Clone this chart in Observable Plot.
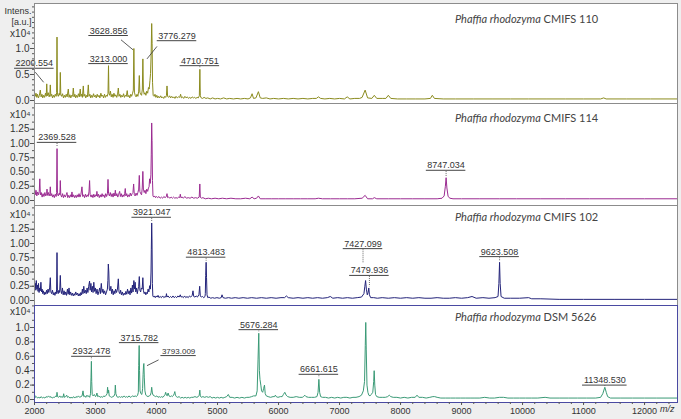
<!DOCTYPE html>
<html><head><meta charset="utf-8">
<script src="https://cdn.jsdelivr.net/npm/d3@7"></script>
<script src="https://cdn.jsdelivr.net/npm/@observablehq/plot@0.6"></script>
<style>
html,body{margin:0;padding:0;background:#fff;}
#chart{position:relative;width:681px;height:419px;background:#efefef;overflow:hidden;font-family:"Liberation Sans",Arial,sans-serif;}
#chart svg{position:absolute;left:0;overflow:visible;}
.title{position:absolute;left:455px;font-family:Lato,"Liberation Sans",sans-serif;font-size:11px;line-height:12px;color:#444;white-space:nowrap;}
</style></head><body><div id="chart"></div>
<script>
// ---------- data ----------
const species = "Phaffia rhodozyma";
const strains = ["CMIFS 110", "CMIFS 114", "CMIFS 102", "DSM 5626"];
const xTicks = [2000,3000,4000,5000,6000,7000,8000,9000,10000,11000,12000];
const yTicks110 = [0, 0.5, 1.0];
const yTicks114 = [0, 0.25, 0.5, 0.75, 1.0, 1.25];
const yTicks102 = [0, 0.25, 0.5, 0.75, 1.0, 1.25];
const yTicks5626 = [0, 0.2, 0.4, 0.6, 0.8, 1.0];

// spectra: [m/z, intensity (x10^4 a.u.)]
const spec110 = [[2000,0.16],[2012,0.08],[2025,0.14],[2038,0.06],[2050,0.12],[2065,0.05],[2080,0.1],[2095,0.2],[2108,0.07],[2122,0.12],[2135,0.05],[2150,0.1],[2165,0.06],[2180,0.14],[2192,0.08],[2200.554,0.32],[2210,0.09],[2225,0.15],[2240,0.07],[2252,0.12],[2259,0.3],[2268,0.08],[2282,0.12],[2295,0.05],[2310,0.1],[2325,0.06],[2340,0.12],[2355,0.08],[2362,0.15],[2369,1.22],[2376,0.12],[2390,0.08],[2405,0.14],[2416,0.1],[2423,0.54],[2431,0.12],[2445,0.08],[2460,0.13],[2475,0.05],[2490,0.1],[2505,0.06],[2520,0.12],[2535,0.07],[2554,0.22],[2566,0.06],[2580,0.11],[2595,0.05],[2610,0.1],[2625,0.08],[2636,0.24],[2648,0.07],[2662,0.12],[2675,0.05],[2690,0.1],[2705,0.06],[2720,0.13],[2735,0.07],[2750,0.22],[2760,0.08],[2772,0.12],[2785,0.06],[2800,0.28],[2810,0.08],[2825,0.12],[2840,0.05],[2855,0.1],[2868,0.07],[2882,0.3],[2893,0.08],[2908,0.12],[2922,0.05],[2938,0.1],[2952,0.06],[2968,0.13],[2982,0.07],[2998,0.1],[3012,0.05],[3028,0.12],[3042,0.07],[3058,0.1],[3072,0.05],[3088,0.14],[3102,0.08],[3118,0.1],[3132,0.05],[3148,0.12],[3162,0.06],[3178,0.1],[3192,0.08],[3205,0.14],[3213,0.67],[3220,0.14],[3232,0.1],[3245,0.18],[3258,0.07],[3272,0.12],[3288,0.06],[3302,0.14],[3318,0.08],[3332,0.11],[3348,0.06],[3362,0.12],[3374,0.24],[3385,0.08],[3400,0.12],[3415,0.06],[3430,0.1],[3445,0.07],[3460,0.13],[3475,0.06],[3490,0.1],[3505,0.08],[3520,0.19],[3532,0.07],[3548,0.1],[3562,0.05],[3578,0.12],[3592,0.08],[3608,0.14],[3620,0.2],[3628.856,1.0],[3638,0.16],[3650,0.1],[3665,0.07],[3680,0.12],[3695,0.08],[3708,0.18],[3718,0.48],[3727,0.16],[3740,0.12],[3755,0.1],[3768,0.22],[3776.279,0.8],[3785,0.2],[3798,0.12],[3812,0.15],[3826,0.1],[3840,0.18],[3855,0.14],[3868,0.25],[3880,0.22],[3892,0.38],[3902,0.52],[3912,0.9],[3921,1.48],[3928,1.1],[3935,0.35],[3945,0.1],[3960,0.08],[3975,0.12],[3990,0.06],[4005,0.1],[4020,0.05],[4035,0.08],[4050,0.05],[4068,0.09],[4085,0.05],[4100,0.07],[4118,0.04],[4135,0.08],[4150,0.06],[4163,0.1],[4172,0.28],[4182,0.08],[4198,0.06],[4215,0.09],[4232,0.05],[4250,0.08],[4268,0.05],[4285,0.07],[4302,0.04],[4320,0.08],[4340,0.05],[4360,0.07],[4380,0.06],[4395,0.12],[4408,0.05],[4425,0.07],[4445,0.04],[4465,0.08],[4485,0.05],[4505,0.07],[4525,0.04],[4545,0.06],[4565,0.04],[4585,0.07],[4605,0.05],[4625,0.06],[4645,0.04],[4665,0.06],[4685,0.05],[4702,0.09],[4710.751,0.6],[4718,0.09],[4732,0.05],[4755,0.04],[4780,0.06],[4810,0.04],[4840,0.05],[4880,0.03],[4920,0.05],[4960,0.03],[5000,0.04],[5050,0.03],[5100,0.05],[5150,0.03],[5200,0.04],[5260,0.03],[5320,0.04],[5380,0.03],[5440,0.04],[5500,0.03],[5540,0.05],[5567,0.13],[5590,0.04],[5630,0.05],[5670,0.17],[5700,0.05],[5740,0.04],[5800,0.05],[5860,0.03],[5920,0.04],[6000,0.03],[6080,0.04],[6160,0.03],[6240,0.04],[6320,0.03],[6400,0.04],[6480,0.03],[6560,0.04],[6620,0.04],[6654,0.07],[6690,0.04],[6760,0.03],[6840,0.04],[6920,0.03],[7000,0.04],[7080,0.03],[7126,0.07],[7170,0.03],[7250,0.04],[7330,0.04],[7370,0.06],[7420,0.2],[7460,0.05],[7530,0.04],[7570,0.1],[7610,0.04],[7700,0.04],[7760,0.04],[7800,0.1],[7840,0.04],[7950,0.03],[8100,0.03],[8250,0.03],[8400,0.03],[8490,0.04],[8521,0.1],[8555,0.04],[8700,0.03],[8900,0.03],[9200,0.03],[9500,0.03],[9800,0.03],[10100,0.03],[10400,0.03],[10700,0.03],[11000,0.03],[11280,0.03],[11330,0.05],[11370,0.03],[11700,0.03],[12100,0.03],[12540,0.03]];

const spec114 = [[2000,0.21],[2012,0.1],[2025,0.18],[2038,0.08],[2050,0.15],[2065,0.1],[2078,0.16],[2087,0.38],[2096,0.1],[2110,0.14],[2125,0.06],[2140,0.12],[2155,0.07],[2170,0.14],[2185,0.08],[2198,0.12],[2205,0.2],[2214,0.09],[2228,0.14],[2240,0.08],[2252,0.12],[2259,0.24],[2268,0.08],[2282,0.12],[2296,0.06],[2310,0.1],[2325,0.05],[2340,0.11],[2355,0.07],[2362,0.14],[2369.528,0.91],[2376,0.12],[2390,0.08],[2405,0.13],[2416,0.1],[2423,0.35],[2431,0.1],[2445,0.06],[2460,0.12],[2475,0.05],[2490,0.1],[2505,0.06],[2520,0.1],[2532,0.14],[2545,0.05],[2560,0.09],[2575,0.05],[2590,0.1],[2603,0.06],[2614,0.15],[2625,0.06],[2640,0.1],[2655,0.05],[2670,0.09],[2685,0.05],[2700,0.1],[2715,0.06],[2730,0.12],[2745,0.06],[2760,0.1],[2778,0.24],[2790,0.07],[2805,0.1],[2820,0.05],[2835,0.11],[2850,0.06],[2865,0.1],[2880,0.07],[2893,0.15],[2903,0.35],[2912,0.1],[2928,0.06],[2942,0.1],[2958,0.05],[2972,0.11],[2988,0.06],[3002,0.1],[3015,0.08],[3023,0.16],[3032,0.07],[3048,0.11],[3062,0.05],[3078,0.1],[3092,0.06],[3108,0.12],[3122,0.07],[3138,0.1],[3152,0.05],[3168,0.12],[3182,0.07],[3196,0.12],[3205,0.37],[3214,0.12],[3228,0.08],[3242,0.14],[3258,0.07],[3272,0.12],[3288,0.06],[3302,0.13],[3315,0.08],[3325,0.18],[3336,0.08],[3350,0.12],[3365,0.06],[3380,0.11],[3396,0.16],[3408,0.07],[3422,0.12],[3438,0.06],[3452,0.1],[3466,0.07],[3478,0.12],[3488,0.21],[3498,0.08],[3512,0.12],[3528,0.06],[3542,0.1],[3556,0.07],[3570,0.13],[3585,0.08],[3600,0.12],[3614,0.14],[3625,0.29],[3636,0.1],[3650,0.08],[3665,0.13],[3680,0.09],[3695,0.14],[3708,0.2],[3718,0.44],[3727,0.16],[3740,0.12],[3755,0.1],[3766,0.22],[3776,0.51],[3785,0.2],[3798,0.14],[3812,0.18],[3826,0.12],[3840,0.2],[3855,0.16],[3868,0.22],[3878,0.24],[3887,0.38],[3898,0.3],[3908,0.45],[3914,0.8],[3921,1.36],[3927,1.05],[3934,0.35],[3942,0.08],[3955,0.06],[3970,0.08],[3985,0.05],[4000,0.07],[4020,0.05],[4040,0.07],[4060,0.04],[4080,0.06],[4100,0.04],[4120,0.07],[4140,0.05],[4162,0.07],[4172,0.12],[4182,0.05],[4200,0.06],[4220,0.04],[4240,0.06],[4260,0.04],[4280,0.06],[4300,0.04],[4320,0.05],[4340,0.04],[4365,0.06],[4380,0.05],[4390,0.11],[4400,0.05],[4420,0.06],[4440,0.04],[4465,0.07],[4490,0.04],[4520,0.05],[4550,0.04],[4580,0.06],[4610,0.04],[4640,0.05],[4670,0.04],[4700,0.06],[4710,0.29],[4718,0.06],[4735,0.04],[4760,0.05],[4800,0.03],[4850,0.04],[4900,0.03],[4960,0.04],[5020,0.03],[5080,0.04],[5150,0.03],[5220,0.04],[5300,0.03],[5380,0.03],[5460,0.04],[5530,0.03],[5567,0.06],[5600,0.03],[5640,0.04],[5670,0.08],[5700,0.03],[5780,0.03],[5880,0.03],[6000,0.03],[6120,0.03],[6240,0.03],[6360,0.03],[6480,0.03],[6600,0.03],[6654,0.04],[6720,0.03],[6850,0.03],[7000,0.03],[7130,0.03],[7250,0.03],[7370,0.04],[7420,0.09],[7460,0.03],[7540,0.03],[7570,0.05],[7610,0.03],[7800,0.03],[8000,0.03],[8200,0.03],[8400,0.03],[8600,0.03],[8680,0.04],[8715,0.08],[8735,0.25],[8747.034,0.4],[8760,0.22],[8780,0.07],[8810,0.04],[8860,0.03],[9000,0.03],[9300,0.03],[9620,0.03],[9900,0.03],[10300,0.03],[10700,0.03],[11100,0.03],[11500,0.03],[12000,0.03],[12540,0.03]];

const spec102 = [[2000,0.38],[2008,0.22],[2015,0.3],[2022,0.18],[2030,0.35],[2040,0.2],[2048,0.27],[2058,0.16],[2066,0.3],[2075,0.14],[2085,0.22],[2095,0.17],[2105,0.32],[2115,0.15],[2125,0.2],[2135,0.12],[2145,0.17],[2160,0.1],[2172,0.15],[2185,0.11],[2198,0.18],[2210,0.12],[2222,0.2],[2235,0.14],[2248,0.22],[2259,0.4],[2268,0.15],[2280,0.12],[2295,0.18],[2308,0.1],[2320,0.14],[2335,0.09],[2348,0.15],[2358,0.12],[2362,0.2],[2369,0.84],[2376,0.17],[2388,0.12],[2400,0.18],[2412,0.14],[2423,0.44],[2432,0.18],[2445,0.12],[2458,0.22],[2470,0.1],[2485,0.17],[2498,0.1],[2512,0.15],[2525,0.09],[2540,0.2],[2552,0.11],[2566,0.22],[2578,0.1],[2592,0.15],[2605,0.09],[2620,0.13],[2635,0.08],[2650,0.12],[2662,0.09],[2676,0.15],[2690,0.1],[2705,0.13],[2718,0.08],[2732,0.12],[2746,0.08],[2760,0.14],[2772,0.1],[2785,0.2],[2795,0.12],[2808,0.25],[2820,0.13],[2835,0.18],[2848,0.12],[2862,0.22],[2875,0.14],[2888,0.25],[2903,0.34],[2912,0.18],[2925,0.3],[2935,0.15],[2948,0.25],[2960,0.14],[2972,0.32],[2985,0.16],[2998,0.22],[3010,0.12],[3025,0.2],[3040,0.1],[3055,0.16],[3068,0.22],[3080,0.12],[3095,0.3],[3108,0.14],[3122,0.2],[3135,0.12],[3150,0.17],[3165,0.1],[3180,0.15],[3195,0.2],[3203,0.35],[3210,0.64],[3218,0.5],[3226,0.2],[3238,0.17],[3252,0.25],[3265,0.12],[3278,0.2],[3290,0.1],[3305,0.17],[3318,0.12],[3330,0.2],[3345,0.14],[3360,0.2],[3374,0.38],[3385,0.15],[3398,0.12],[3412,0.18],[3425,0.1],[3440,0.15],[3455,0.09],[3470,0.13],[3485,0.1],[3498,0.16],[3512,0.11],[3525,0.2],[3538,0.12],[3552,0.17],[3566,0.1],[3580,0.22],[3592,0.13],[3605,0.27],[3615,0.15],[3629,0.35],[3640,0.2],[3650,0.32],[3660,0.15],[3672,0.22],[3685,0.12],[3698,0.2],[3708,0.25],[3718,0.42],[3728,0.18],[3740,0.15],[3752,0.22],[3765,0.2],[3776,0.4],[3786,0.17],[3798,0.12],[3812,0.15],[3825,0.1],[3838,0.14],[3850,0.12],[3862,0.2],[3875,0.15],[3888,0.26],[3900,0.2],[3910,0.5],[3915,0.9],[3921.047,1.36],[3926,1.08],[3932,0.3],[3940,0.08],[3952,0.06],[3965,0.08],[3980,0.05],[3995,0.08],[4010,0.06],[4025,0.09],[4040,0.05],[4060,0.07],[4080,0.05],[4100,0.08],[4120,0.05],[4140,0.07],[4155,0.06],[4163,0.12],[4172,0.06],[4190,0.08],[4210,0.05],[4230,0.07],[4250,0.05],[4270,0.08],[4290,0.05],[4310,0.07],[4330,0.05],[4350,0.08],[4370,0.06],[4390,0.1],[4402,0.06],[4420,0.07],[4440,0.05],[4460,0.08],[4480,0.05],[4500,0.07],[4520,0.05],[4540,0.08],[4560,0.06],[4585,0.09],[4598,0.17],[4610,0.07],[4630,0.06],[4650,0.08],[4670,0.06],[4695,0.1],[4708,0.25],[4718,0.08],[4735,0.06],[4755,0.07],[4775,0.05],[4795,0.07],[4800,0.12],[4806,0.44],[4813.483,0.67],[4820,0.4],[4828,0.1],[4840,0.05],[4860,0.06],[4890,0.04],[4920,0.05],[4950,0.04],[4990,0.05],[5030,0.04],[5060,0.05],[5074,0.1],[5090,0.05],[5130,0.04],[5180,0.05],[5230,0.04],[5290,0.05],[5350,0.04],[5420,0.05],[5490,0.04],[5560,0.05],[5640,0.04],[5720,0.05],[5800,0.04],[5880,0.05],[5960,0.04],[6040,0.05],[6100,0.05],[6128,0.08],[6160,0.05],[6240,0.04],[6320,0.05],[6400,0.04],[6480,0.05],[6560,0.04],[6640,0.05],[6720,0.04],[6800,0.05],[6849,0.07],[6890,0.04],[6970,0.05],[7050,0.04],[7130,0.05],[7210,0.04],[7290,0.05],[7360,0.06],[7400,0.12],[7415,0.25],[7427.099,0.35],[7440,0.2],[7455,0.1],[7468,0.14],[7479.936,0.22],[7490,0.1],[7510,0.05],[7560,0.05],[7620,0.04],[7700,0.05],[7800,0.04],[7900,0.05],[8000,0.04],[8100,0.05],[8200,0.04],[8300,0.05],[8400,0.04],[8500,0.04],[8600,0.05],[8700,0.04],[8800,0.04],[8900,0.05],[9000,0.04],[9100,0.05],[9172,0.07],[9240,0.04],[9350,0.05],[9450,0.04],[9550,0.05],[9598,0.07],[9612,0.3],[9623.508,0.67],[9633,0.3],[9648,0.07],[9700,0.04],[9800,0.04],[9950,0.04],[10100,0.05],[10150,0.03],[10300,0.03],[10600,0.02],[11000,0.02],[11500,0.02],[12000,0.02],[12540,0.02]];

const spec5626 = [[2000,0.07],[2015,0.03],[2030,0.04],[2050,0.02],[2070,0.03],[2090,0.02],[2110,0.04],[2130,0.02],[2150,0.03],[2170,0.02],[2190,0.04],[2210,0.03],[2230,0.05],[2250,0.03],[2270,0.04],[2290,0.02],[2310,0.03],[2330,0.03],[2350,0.05],[2362,0.04],[2369,0.1],[2378,0.04],[2395,0.03],[2415,0.05],[2430,0.03],[2450,0.04],[2468,0.03],[2478,0.08],[2490,0.03],[2510,0.04],[2528,0.06],[2540,0.03],[2560,0.04],[2580,0.02],[2600,0.03],[2620,0.02],[2640,0.04],[2660,0.02],[2680,0.04],[2700,0.03],[2720,0.05],[2740,0.03],[2760,0.04],[2780,0.05],[2795,0.12],[2808,0.04],[2825,0.05],[2840,0.03],[2860,0.06],[2875,0.04],[2890,0.05],[2905,0.03],[2918,0.08],[2926,0.3],[2932.478,0.53],[2938,0.25],[2946,0.07],[2960,0.05],[2980,0.07],[3000,0.04],[3015,0.06],[3023,0.09],[3035,0.04],[3055,0.05],[3075,0.03],[3095,0.04],[3115,0.03],[3135,0.05],[3155,0.04],[3175,0.06],[3190,0.08],[3198,0.17],[3206,0.09],[3215,0.13],[3225,0.05],[3245,0.04],[3265,0.03],[3285,0.04],[3305,0.05],[3318,0.08],[3325,0.2],[3334,0.08],[3350,0.04],[3370,0.03],[3390,0.04],[3410,0.03],[3430,0.04],[3450,0.03],[3470,0.05],[3490,0.03],[3510,0.04],[3530,0.03],[3550,0.05],[3570,0.03],[3590,0.04],[3610,0.05],[3630,0.04],[3650,0.05],[3670,0.04],[3690,0.06],[3702,0.1],[3708,0.47],[3715.782,0.75],[3722,0.4],[3730,0.12],[3745,0.08],[3760,0.07],[3772,0.15],[3780,0.35],[3788,0.48],[3793.009,0.5],[3800,0.3],[3810,0.12],[3825,0.06],[3840,0.05],[3860,0.04],[3880,0.05],[3900,0.06],[3912,0.1],[3921,0.17],[3932,0.09],[3945,0.06],[3965,0.05],[3985,0.04],[4005,0.05],[4025,0.03],[4045,0.04],[4065,0.03],[4085,0.04],[4105,0.03],[4125,0.05],[4140,0.07],[4150,0.1],[4162,0.06],[4175,0.05],[4190,0.09],[4205,0.05],[4225,0.04],[4245,0.05],[4260,0.04],[4280,0.06],[4290,0.08],[4300,0.11],[4310,0.06],[4325,0.04],[4345,0.03],[4370,0.04],[4395,0.02],[4420,0.03],[4445,0.02],[4470,0.03],[4495,0.02],[4520,0.03],[4545,0.02],[4570,0.03],[4600,0.03],[4630,0.04],[4660,0.03],[4685,0.04],[4700,0.06],[4710,0.13],[4718,0.05],[4735,0.03],[4760,0.04],[4790,0.03],[4820,0.04],[4850,0.03],[4880,0.04],[4910,0.02],[4940,0.03],[4970,0.02],[5000,0.03],[5030,0.02],[5060,0.03],[5090,0.02],[5120,0.03],[5150,0.04],[5177,0.07],[5200,0.03],[5240,0.03],[5280,0.02],[5320,0.03],[5360,0.02],[5400,0.03],[5440,0.02],[5480,0.03],[5520,0.03],[5560,0.04],[5590,0.05],[5630,0.05],[5650,0.12],[5664,0.55],[5676.284,0.92],[5686,0.4],[5696,0.28],[5710,0.2],[5722,0.12],[5740,0.1],[5755,0.15],[5770,0.2],[5782,0.08],[5800,0.05],[5830,0.04],[5870,0.03],[5910,0.04],[5935,0.04],[5948,0.06],[5962,0.04],[5990,0.03],[6030,0.04],[6060,0.04],[6080,0.07],[6103,0.1],[6125,0.06],[6150,0.04],[6190,0.03],[6240,0.03],[6290,0.04],[6340,0.03],[6390,0.03],[6410,0.04],[6430,0.06],[6450,0.04],[6490,0.03],[6540,0.03],[6590,0.03],[6630,0.04],[6648,0.1],[6661.615,0.28],[6674,0.1],[6690,0.04],[6720,0.03],[6770,0.03],[6820,0.02],[6870,0.03],[6920,0.02],[6970,0.03],[7020,0.02],[7070,0.03],[7120,0.03],[7170,0.02],[7220,0.03],[7270,0.03],[7320,0.04],[7360,0.06],[7390,0.12],[7410,0.25],[7422,0.75],[7430,1.07],[7438,0.7],[7450,0.2],[7465,0.1],[7480,0.06],[7500,0.05],[7520,0.07],[7545,0.1],[7560,0.25],[7568,0.4],[7578,0.2],[7590,0.07],[7610,0.04],[7650,0.03],[7700,0.03],[7750,0.03],[7790,0.04],[7815,0.06],[7840,0.04],[7880,0.03],[7940,0.03],[8000,0.02],[8060,0.03],[8120,0.02],[8180,0.03],[8240,0.03],[8270,0.06],[8300,0.03],[8360,0.03],[8420,0.02],[8480,0.03],[8530,0.04],[8560,0.04],[8600,0.03],[8660,0.02],[8740,0.02],[8820,0.02],[8900,0.02],[8980,0.02],[9060,0.02],[9140,0.02],[9220,0.02],[9300,0.02],[9380,0.03],[9460,0.02],[9540,0.02],[9620,0.03],[9690,0.03],[9760,0.02],[9850,0.02],[9950,0.02],[10050,0.02],[10150,0.02],[10250,0.02],[10370,0.03],[10450,0.02],[10600,0.02],[10750,0.02],[10900,0.02],[11050,0.02],[11200,0.02],[11280,0.03],[11315,0.08],[11348.53,0.17],[11372,0.1],[11395,0.04],[11440,0.02],[11600,0.02],[11800,0.02],[12000,0.02],[12200,0.02],[12540,0.02]];

// labelled peaks: m/z, peak top, label underline level (+ optional label centre / leader)
const ann110 = [
  {mz:2200.554, top:0.32, lx:1997, ly:0.62, lead:[2013,0.545,2150,0.35]},
  {mz:3213.000, top:0.67, ly:0.71},
  {mz:3628.856, top:1.0, lx:3215, ly:1.25, lead:[3418,1.167,3615,0.975]},
  {mz:3776.279, top:0.8, lx:4336, ly:1.15, lead:[4008,1.04,3844,0.80]},
  {mz:4710.751, top:0.6, ly:0.67}
];
const ann114 = [
  {mz:2369.528, top:0.91, ly:1.02},
  {mz:8747.034, top:0.4, ly:0.53}
];
const ann102 = [
  {mz:3921.047, top:1.36, ly:1.46},
  {mz:4813.483, top:0.67, ly:0.76},
  {mz:7427.099, top:0.35, lx:7385, ly:0.91, drop:0.66},
  {mz:7479.936, top:0.22, lx:7490, ly:0.44},
  {mz:9623.508, top:0.67, ly:0.77}
];
const ann5626 = [
  {mz:2932.478, top:0.53, ly:0.6},
  {mz:3715.782, top:0.75, ly:0.79},
  {mz:3793.009, top:0.5, lx:4362, ly:0.61, lead:[4034,0.55,3844,0.47], small:true},
  {mz:5676.284, top:0.92, ly:0.97},
  {mz:6661.615, top:0.28, ly:0.35},
  {mz:11348.530, top:0.17, ly:0.2}
];

// ---------- layout ----------
const W = 681, ML = 34, MR = 4;
const xDomain = [2000, 12540];
const panels = [
  {strain:strains[0], spec:spec110, ann:ann110, yTicks:yTicks110, fmt:".1f", minor:0.1, color:"#8b8b1e", frame:"#8c8c8c", top:0, mt:3, fh:100, zero:97, ppu:52, mb:0, expo:26, titleY:19},
  {strain:strains[1], spec:spec114, ann:ann114, yTicks:yTicks114, fmt:".2f", minor:0.125, color:"#9b2b91", frame:"#8c8c8c", top:103, mt:0, fh:102, zero:97, ppu:57, mb:0, expo:7, titleY:118},
  {strain:strains[2], spec:spec102, ann:ann102, yTicks:yTicks102, fmt:".2f", minor:0.125, color:"#23237a", frame:"#8c8c8c", top:205, mt:0, fh:100, zero:95, ppu:57, mb:0, expo:5, titleY:217},
  {strain:strains[3], spec:spec5626, ann:ann5626, yTicks:yTicks5626, fmt:".1f", minor:0.1, color:"#3a9a76", frame:"#4a4aa2", top:305, mt:0, fh:97, zero:94, ppu:72, mb:17, expo:2, titleY:317, xAxis:true}
];

const chart = document.getElementById("chart");
const kx = (W - ML - MR) / (xDomain[1] - xDomain[0]);
const fmt3 = d3.format(".3f");
const textW = (s, fs) => ((s.length - 1) * 0.556 + 0.278) * fs;

panels.forEach((p, i) => {
  const yDomain = [-(p.fh - p.zero) / p.ppu, p.zero / p.ppu];
  const minorTicks = d3.range(0, yDomain[1], p.minor);
  const ann = p.ann.map(d => ({...d, label: fmt3(d.mz), cx: d.lx ?? d.mz, fs: d.small ? 8 : 9}));
  const hw = d => (textW(d.label, d.fs) + 2) / 2 / kx;
  const dotted = ann.filter(d => !d.lead);
  const leads = ann.filter(d => d.lead);
  const marks = [
    Plot.frame({fill: "white", stroke: null}),
    Plot.line(p.spec, {x: d => d[0], y: d => d[1], stroke: p.color, strokeWidth: 1}),
    Plot.axisY(minorTicks, {tickSize: 2, tickFormat: () => "", stroke: "#555", label: null}),
    Plot.axisY(p.yTicks, {tickSize: 4, tickPadding: 1, tickFormat: d3.format(p.fmt), fontSize: 10, fill: "#333", stroke: "#555", label: null}),
    Plot.ruleX(dotted, {x: "cx", y1: d => d.ly - 0.02, y2: d => d.drop ?? d.top + 0.02, stroke: "#444", strokeWidth: 0.8, strokeDasharray: "1,1"}),
    Plot.link(leads, {x1: d => d.lead[0], y1: d => d.lead[1], x2: d => d.lead[2], y2: d => d.lead[3], stroke: "#333", strokeWidth: 0.8}),
    Plot.ruleY(ann, {y: "ly", x1: d => d.cx - hw(d), x2: d => d.cx + hw(d), stroke: "#444", strokeWidth: 1}),
    Plot.text(ann.filter(d => !d.small), {x: "cx", y: "ly", text: "label", lineAnchor: "bottom", dy: -2, fontSize: 9, fill: "#333"}),
    Plot.text(ann.filter(d => d.small), {x: "cx", y: "ly", text: "label", lineAnchor: "bottom", dy: -2, fontSize: 8, fill: "#333"}),
    Plot.text(["x10⁴"], {frameAnchor: "top-left", dx: -4, dy: p.expo, textAnchor: "end", fontSize: 10, fill: "#333"}),
    Plot.frame({stroke: p.frame, strokeWidth: 1})
  ];
  if (i === 0) {
    marks.push(Plot.text(["Intens."], {frameAnchor: "top-left", dx: -3, dy: 4, textAnchor: "end", fontSize: 9, fill: "#333"}));
    marks.push(Plot.text(["[a.u.]"], {frameAnchor: "top-left", dx: -3, dy: 15, textAnchor: "end", fontSize: 9, fill: "#333"}));
  }
  if (p.xAxis) {
    marks.push(Plot.axisX(d3.range(2000, 12541, 200), {tickSize: 2, tickFormat: () => "", stroke: "#555", label: null}));
    marks.push(Plot.axisX(xTicks, {tickSize: 3, tickPadding: 2, tickFormat: d => String(d), fontSize: 9, fill: "#333", stroke: "#555", label: null}));
    marks.push(Plot.text(["m/z"], {frameAnchor: "bottom-right", dx: -3, dy: 9, textAnchor: "end", fontSize: 9, fontStyle: "italic", fill: "#333"}));
  }
  const svg = Plot.plot({
    width: W, height: p.mt + p.fh + p.mb,
    marginLeft: ML, marginRight: MR, marginTop: p.mt, marginBottom: p.mb,
    x: {domain: xDomain, axis: p.xAxis ? undefined : null},
    y: {domain: yDomain},
    style: {background: "transparent", overflow: "visible", fontFamily: "'Liberation Sans', Arial, sans-serif"},
    marks
  });
  svg.style.top = p.top + "px";
  chart.appendChild(svg);
  const t = document.createElement("div");
  t.className = "title";
  t.style.top = (p.titleY - 6) + "px";
  t.innerHTML = "<i>" + species + "</i> " + p.strain;
  chart.appendChild(t);
});
</script></body></html>
